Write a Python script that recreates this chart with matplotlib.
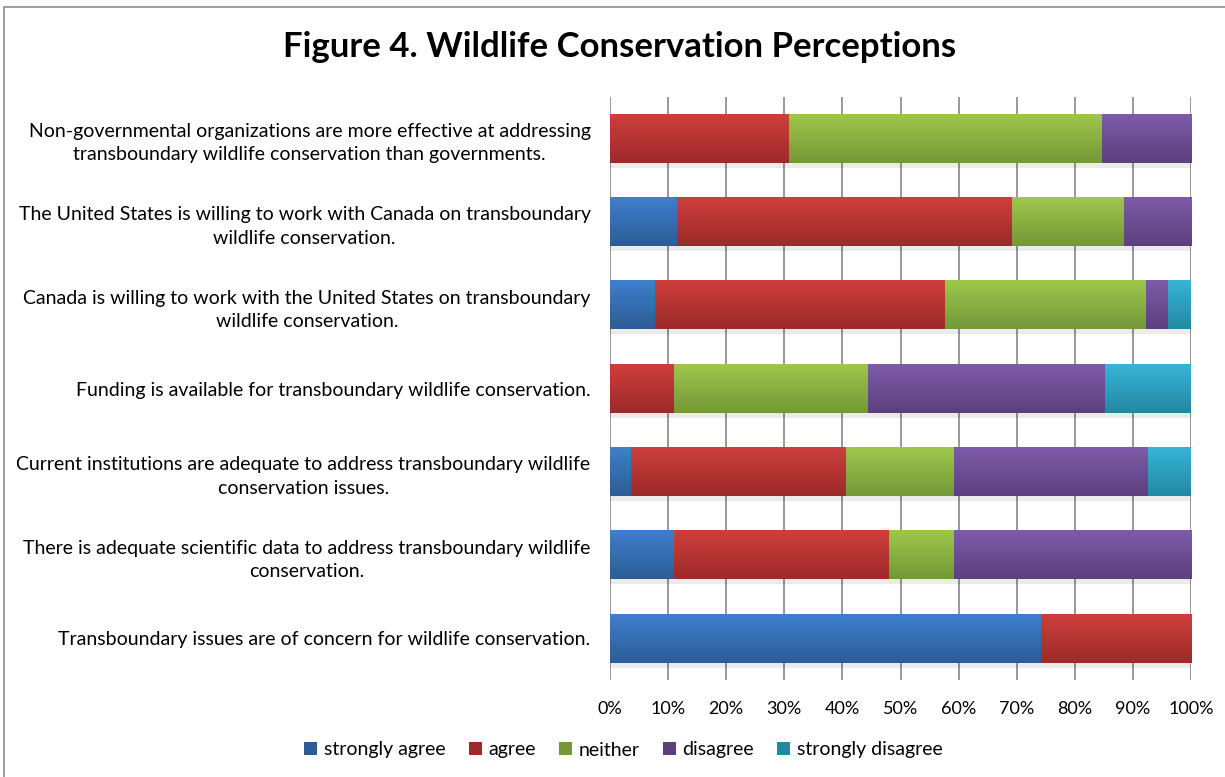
import numpy as np
import matplotlib
matplotlib.use("Agg")
import matplotlib.pyplot as plt
from matplotlib.colors import LinearSegmentedColormap
from matplotlib.patches import Rectangle
from matplotlib.ticker import PercentFormatter

statements = [
    "Non-governmental organizations are more effective at addressing\ntransboundary wildlife conservation than governments.",
    "The United States is willing to work with Canada on transboundary\nwildlife conservation.",
    "Canada is willing to work with the United States on transboundary\nwildlife conservation.",
    "Funding is available for transboundary wildlife conservation.",
    "Current institutions are adequate to address transboundary wildlife\nconservation issues.",
    "There is adequate scientific data to address transboundary wildlife\nconservation.",
    "Transboundary issues are of concern for wildlife conservation.",
]
responses = ["strongly agree", "agree", "neither", "disagree", "strongly disagree"]

strongly_agree = [0.0, 11.5, 7.7, 0.0, 3.7, 11.1, 74.1]
agree = [30.8, 57.7, 50.0, 11.1, 37.0, 37.0, 25.9]
neither = [53.8, 19.2, 34.6, 33.3, 18.5, 11.1, 0.0]
disagree = [15.4, 11.6, 3.8, 40.8, 33.4, 40.8, 0.0]
strongly_disagree = [0.0, 0.0, 3.9, 14.8, 7.4, 0.0, 0.0]
series = [strongly_agree, agree, neither, disagree, strongly_disagree]

# (top, bottom) colours for the Excel-like gradient
colors = [("#3e7fcd", "#2c5d97"), ("#ce3f3c", "#9c2a29"), ("#9fc74b", "#749838"),
          ("#7e5ba8", "#5c407e"), ("#37b4d8", "#2289a2")]

plt.rcParams["font.family"] = ["Lato", "DejaVu Sans"]

fig = plt.figure(figsize=(12.25, 7.77), dpi=100)
fig.patches.append(Rectangle((4 / 1225, -0.01), 1.2, 1.01 - 7 / 777, transform=fig.transFigure,
                             fill=False, edgecolor="#8c8c8c", linewidth=1.2))
ax = fig.add_axes([610 / 1225, 97 / 777, 581 / 1225, 583 / 777])

y = np.arange(len(statements))
h = 0.58
left = np.zeros(len(statements))
for vals, (c_top, c_bot), name in zip(series, colors, responses):
    vals = np.array(vals)
    ax.barh(y, vals, left=left, height=h, color=c_bot, label=name, zorder=3, linewidth=0)
    cmap = LinearSegmentedColormap.from_list(name, [c_top, c_bot])
    grad = np.linspace(0, 1, 64).reshape(-1, 1)
    for yi, l, v in zip(y, left, vals):
        if v <= 0:
            continue
        ax.imshow(grad, cmap=cmap, aspect="auto", zorder=4,
                  extent=[l, l + v, yi + h / 2, yi - h / 2], origin="upper")
        ax.add_patch(Rectangle((l, yi + h / 2), v, 0.06, color="#000000", alpha=0.08,
                               zorder=2, linewidth=0))
    left += vals

ax.set_xlim(0, 100)
ax.set_ylim(len(statements) - 0.5, -0.5)
ax.set_xticks(np.arange(0, 101, 10))
ax.xaxis.set_major_formatter(PercentFormatter(decimals=0))
ax.set_yticks(y)
ax.set_yticklabels(statements, multialignment="center", linespacing=1.45, fontsize=14)
ax.tick_params(axis="both", length=0, labelsize=13, colors="#000000")
ax.tick_params(axis="y", pad=14, labelsize=14)
ax.tick_params(axis="x", pad=15)
ax.grid(axis="x", color="#868686", linewidth=1.2, zorder=0)
for s in ax.spines.values():
    s.set_visible(False)

fig.text(0.506, 1 - 47 / 777, "Figure 4. Wildlife Conservation Perceptions",
         ha="center", va="center", fontsize=25, fontweight="bold")

fig.legend(*ax.get_legend_handles_labels(), loc="center", bbox_to_anchor=(0.509, 1 - 750 / 777),
           ncol=5, frameon=False, fontsize=14, handlelength=0.65, handleheight=0.65,
           handletextpad=0.35, columnspacing=1.2)

fig.savefig("out.png", dpi=100)
